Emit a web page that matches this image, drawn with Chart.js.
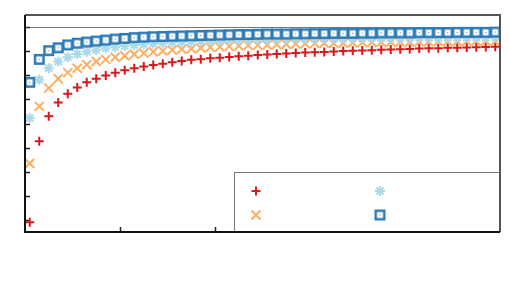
<!DOCTYPE html>
<html><head><meta charset="utf-8">
<script src="https://cdn.jsdelivr.net/npm/chart.js@4/dist/chart.umd.min.js"></script>
<style>html,body{margin:0;padding:0;background:#fff}canvas{display:block}</style>
</head><body>
<canvas id="c" width="510" height="300" style="width:510px;height:300px"></canvas>
<script>
const xValues = [0.5,1.5,2.5,3.5,4.5,5.5,6.5,7.5,8.5,9.5,
  10.5,11.5,12.5,13.5,14.5,15.5,16.5,17.5,18.5,19.5,
  20.5,21.5,22.5,23.5,24.5,25.5,26.5,27.5,28.5,29.5,
  30.5,31.5,32.5,33.5,34.5,35.5,36.5,37.5,38.5,39.5,
  40.5,41.5,42.5,43.5,44.5,45.5,46.5,47.5,48.5,49.5];
const seriesRed = [0.190,0.526,0.630,0.687,0.723,0.749,0.771,0.786,0.799,0.811,
  0.821,0.829,0.836,0.843,0.848,0.854,0.859,0.864,0.866,0.871,
  0.873,0.876,0.879,0.881,0.884,0.886,0.888,0.890,0.892,0.894,
  0.896,0.897,0.899,0.901,0.902,0.903,0.904,0.906,0.907,0.908,
  0.909,0.911,0.912,0.912,0.914,0.914,0.915,0.916,0.917,0.918];
const seriesOrange = [0.434,0.671,0.747,0.786,0.811,0.829,0.844,0.857,0.866,0.875,
  0.881,0.887,0.892,0.897,0.901,0.905,0.908,0.910,0.913,0.916,
  0.918,0.920,0.922,0.924,0.925,0.926,0.928,0.929,0.930,0.931,
  0.932,0.933,0.933,0.934,0.935,0.936,0.937,0.937,0.938,0.938,
  0.938,0.939,0.939,0.940,0.940,0.940,0.941,0.941,0.942,0.942];
const seriesLightBlue = [0.623,0.781,0.829,0.857,0.875,0.888,0.898,0.905,0.912,0.917,
  0.921,0.926,0.928,0.931,0.933,0.936,0.938,0.939,0.941,0.942,
  0.943,0.945,0.946,0.947,0.948,0.948,0.949,0.950,0.951,0.951,
  0.952,0.952,0.953,0.953,0.954,0.954,0.955,0.955,0.955,0.955,
  0.955,0.956,0.956,0.956,0.956,0.956,0.957,0.957,0.957,0.957];
const seriesBlue = [0.771,0.866,0.902,0.914,0.926,0.933,0.938,0.942,0.946,0.950,
  0.953,0.956,0.958,0.960,0.961,0.962,0.963,0.964,0.965,0.966,
  0.967,0.968,0.969,0.969,0.970,0.971,0.971,0.971,0.972,0.972,
  0.973,0.973,0.974,0.974,0.974,0.975,0.975,0.976,0.976,0.976,
  0.976,0.977,0.977,0.977,0.977,0.978,0.978,0.978,0.978,0.979];
const yTicks = [0.2,0.3,0.4,0.5,0.6,0.7,0.8,0.9,1.0];
const xTicks = [10,20,30,40];
const referenceLevel = 1.0;
const legendLabels = ['', '', '', ''];

const COLORS = ['#d7191c', '#fdae61', '#abd9e9', '#2c7bb6'];

function squareMarker() {
  const c = document.createElement('canvas');
  c.width = 13; c.height = 13;
  const g = c.getContext('2d');
  g.fillStyle = '#ffffff'; g.fillRect(1, 1, 11, 11);
  g.strokeStyle = COLORS[3]; g.lineWidth = 2.5; g.strokeRect(2.25, 2.25, 8.5, 8.5);
  g.fillStyle = '#3a78ad'; g.fillRect(6, 6, 1, 1);
  return c;
}
const sqImg = squareMarker();

function pts(arr) { return arr.map((v, i) => ({x: xValues[i], y: v})); }

function drawPlus(ctx, x, y, r, col) {
  ctx.strokeStyle = col; ctx.lineWidth = 2;
  ctx.beginPath(); ctx.moveTo(x - r, y); ctx.lineTo(x + r, y);
  ctx.moveTo(x, y - r); ctx.lineTo(x, y + r); ctx.stroke();
}
function drawX(ctx, x, y, r, col) {
  const d = r * Math.SQRT1_2;
  ctx.strokeStyle = col; ctx.lineWidth = 2;
  ctx.beginPath(); ctx.moveTo(x - d, y - d); ctx.lineTo(x + d, y + d);
  ctx.moveTo(x - d, y + d); ctx.lineTo(x + d, y - d); ctx.stroke();
}

const framePlugin = {
  id: 'frame',
  beforeDatasetsDraw(chart) {
    const {ctx, chartArea: a, scales: {x, y}} = chart;
    ctx.save();
    const yr = Math.round(y.getPixelForValue(referenceLevel)) + 0.5;
    ctx.strokeStyle = '#7a7a7a'; ctx.lineWidth = 1;
    ctx.beginPath(); ctx.moveTo(a.left, yr); ctx.lineTo(a.right, yr); ctx.stroke();
    ctx.strokeStyle = '#222'; ctx.lineWidth = 1.5;
    yTicks.forEach(v => {
      const p = Math.round(y.getPixelForValue(v)) + 0.5;
      ctx.beginPath(); ctx.moveTo(a.left, p); ctx.lineTo(a.left + 5, p); ctx.stroke();
    });
    xTicks.forEach(v => {
      const p = Math.round(x.getPixelForValue(v)) + 0.5;
      ctx.beginPath(); ctx.moveTo(p, a.bottom); ctx.lineTo(p, a.bottom - 5); ctx.stroke();
    });
    ctx.restore();
  },
  afterDatasetsDraw(chart) {
    const {ctx, chartArea: a} = chart;
    ctx.save();
    const lx = 234.5, ly = 172.5;
    ctx.fillStyle = '#fff';
    ctx.fillRect(lx, ly, a.right - lx, a.bottom - ly);
    ctx.strokeStyle = '#7a7a7a'; ctx.lineWidth = 1;
    ctx.strokeRect(lx, ly, a.right - lx, a.bottom - ly);
    drawPlus(ctx, 256, 191, 4.5, COLORS[0]);
    drawX(ctx, 256, 215, 6.4, COLORS[1]);
    drawPlus(ctx, 380, 191, 5, COLORS[2]);
    drawX(ctx, 380, 191, 5, COLORS[2]);
    ctx.drawImage(sqImg, 380 - 6.5, 215 - 6.5);
    ctx.lineWidth = 2;
    ctx.strokeStyle = '#555';
    ctx.beginPath(); ctx.moveTo(a.left, a.top); ctx.lineTo(a.right, a.top); ctx.lineTo(a.right, a.bottom); ctx.stroke();
    ctx.strokeStyle = '#111';
    ctx.beginPath(); ctx.moveTo(a.left, a.top); ctx.lineTo(a.left, a.bottom); ctx.lineTo(a.right, a.bottom); ctx.stroke();
    ctx.restore();
  }
};

new Chart(document.getElementById('c'), {
  type: 'scatter',
  data: {
    datasets: [
      {label: legendLabels[0], data: pts(seriesRed), pointStyle: 'cross', pointRadius: 4.5, borderColor: COLORS[0], backgroundColor: COLORS[0], borderWidth: 2, order: 3},
      {label: legendLabels[1], data: pts(seriesOrange), pointStyle: 'crossRot', pointRadius: 6.4, borderColor: COLORS[1], backgroundColor: COLORS[1], borderWidth: 2, order: 2},
      {label: legendLabels[2], data: pts(seriesLightBlue), pointStyle: 'star', pointRadius: 5, borderColor: COLORS[2], backgroundColor: COLORS[2], borderWidth: 2, order: 1},
      {label: legendLabels[3], data: pts(seriesBlue), pointStyle: sqImg, pointRadius: 6, borderColor: COLORS[3], backgroundColor: COLORS[3], order: 0}
    ]
  },
  options: {
    responsive: false,
    animation: false,
    events: [],
    layout: {padding: {left: 25, right: 10, top: 15, bottom: 68}},
    scales: {
      x: {type: 'linear', display: false, min: 0, max: 50},
      y: {type: 'linear', display: false, min: 0.15, max: 1.05}
    },
    plugins: {legend: {display: false}, tooltip: {enabled: false}}
  },
  plugins: [framePlugin]
});
</script>
</body></html>
